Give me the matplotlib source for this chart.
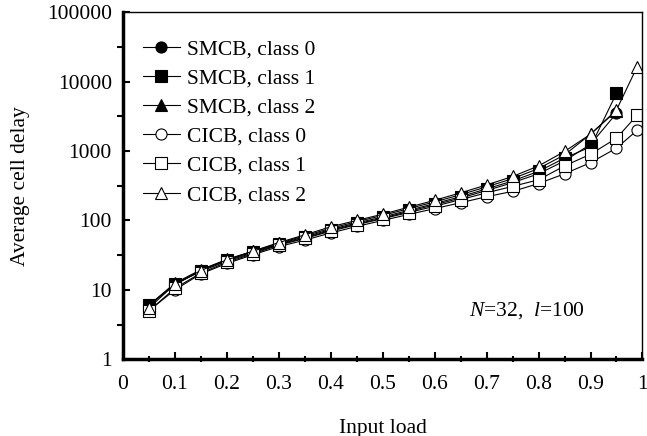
import numpy as np
import matplotlib
matplotlib.use("Agg")
import matplotlib.pyplot as plt
from matplotlib.ticker import FixedLocator, NullFormatter

# input load values
load = [0.05, 0.1, 0.15, 0.2, 0.25, 0.3, 0.35, 0.4, 0.45, 0.5,
        0.55, 0.6, 0.65, 0.7, 0.75, 0.8, 0.85, 0.9, 0.95, 0.99]

# average cell delay per scheme / class (SMCB saturates before 0.99)
smcb_c0 = [6, 12, 18.5, 26, 34, 45, 56, 72, 89, 108,
           135, 168, 210, 270, 350, 470, 720, 1250, 3500, np.nan]
smcb_c1 = [6, 12, 19, 27, 35, 46, 58, 74, 92, 112,
           140, 175, 220, 285, 370, 510, 790, 1150, 6800, np.nan]
smcb_c2 = [6, 12.5, 19.5, 27.5, 36, 47, 60, 77, 96, 118,
           148, 185, 235, 305, 400, 560, 880, 1750, 3800, np.nan]
cicb_c0 = [5, 10, 17, 24, 32, 42, 52, 66, 82, 100,
           122, 148, 180, 220, 262, 340, 470, 680, 1100, 2000]
cicb_c1 = [5, 10.5, 17.5, 25, 33, 44, 55, 70, 87, 106,
           130, 160, 200, 250, 310, 385, 610, 900, 1530, 3300]
cicb_c2 = [5.5, 12, 19, 27, 36, 48, 62, 81, 100, 123,
           155, 195, 250, 325, 430, 610, 985, 1750, 3900, 16500]

plt.rcParams["font.family"] = "Liberation Serif"
plt.rcParams["mathtext.fontset"] = "custom"
plt.rcParams["mathtext.rm"] = "Liberation Serif"
plt.rcParams["mathtext.it"] = "Liberation Serif:italic"

fig = plt.figure(figsize=(6.47, 4.36), dpi=100)
ax = fig.add_axes([0.19, 0.176, 0.803, 0.796])

series = [
    (smcb_c0, "o", "black", "SMCB, class 0"),
    (smcb_c1, "s", "black", "SMCB, class 1"),
    (smcb_c2, "^", "black", "SMCB, class 2"),
    (cicb_c0, "o", "white", "CICB, class 0"),
    (cicb_c1, "s", "white", "CICB, class 1"),
    (cicb_c2, "^", "white", "CICB, class 2"),
]
for vals, m, fc, lab in series:
    ax.plot(load, vals, color="black", lw=0.8, marker=m, markersize=8,
            markerfacecolor=fc, markeredgecolor="black", markeredgewidth=0.8,
            label=lab)

ax.set_yscale("log")
ax.set_xlim(0, 1)
ax.set_ylim(1, 100000)

ax.set_xticks(np.arange(0, 1.01, 0.1))
ax.set_xticklabels(["0", "0.1", "0.2", "0.3", "0.4", "0.5", "0.6", "0.7", "0.8", "0.9", "1"])
ax.xaxis.set_minor_locator(FixedLocator(np.arange(0.05, 1.0, 0.1)))

decades = [1, 10, 100, 1000, 10000, 100000]
ax.yaxis.set_major_locator(FixedLocator(decades))
ax.set_yticklabels([str(d) for d in decades])
ax.yaxis.set_minor_locator(FixedLocator([10 ** (k + 0.5) for k in range(5)]))
ax.yaxis.set_minor_formatter(NullFormatter())

ax.tick_params(which="major", direction="in", length=5, width=1.5, labelsize=15.5)
ax.tick_params(axis="x", which="major", pad=11)
ax.tick_params(axis="y", which="major", pad=8)
ax.tick_params(axis="x", which="minor", direction="inout", length=5, width=1.5)
ax.tick_params(axis="y", which="minor", direction="out", length=4, width=1.5)
ax.tick_params(top=False, right=False, which="both")

ax.spines["left"].set_linewidth(2.5)
ax.spines["bottom"].set_linewidth(2.5)
ax.spines["top"].set_linewidth(1)
ax.spines["right"].set_linewidth(1)

ax.set_xlabel("Input load", fontsize=15.5, labelpad=18)
ax.set_ylabel("Average cell delay", fontsize=15.5, labelpad=12)

ax.text(0.778, 5.0, r"$\mathit{N}$=32,  $\mathit{l}$=100", fontsize=15.5,
        ha="center", va="center")

ax.legend(loc="upper left", frameon=False, fontsize=15.5, handlelength=1.7,
          handletextpad=0.35, labelspacing=0.42, borderaxespad=0.3,
          bbox_to_anchor=(0.01, 0.965))

fig.savefig("out.png", dpi=100)
